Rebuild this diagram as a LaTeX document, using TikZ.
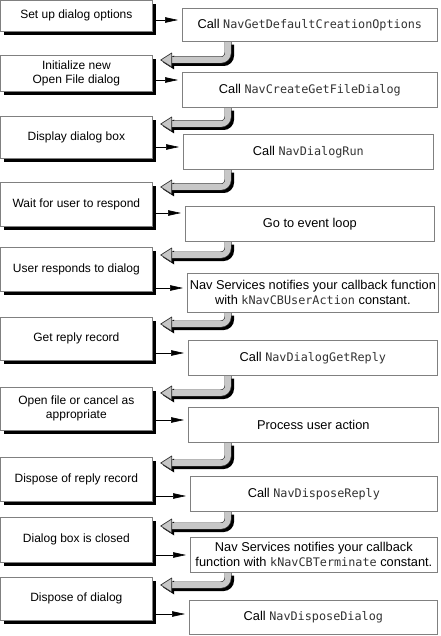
\documentclass[tikz,border=0pt]{standalone}
\usepackage{fontspec}
\setmainfont{Liberation Sans}
\setmonofont{DejaVu Sans Mono}
\usepackage{tikz}
\usetikzlibrary{positioning, calc, arrows.meta, shadows}

\definecolor{bandgray}{gray}{0.78}
\newcommand{\navcode}[1]{{\fontsize{11.8}{15}\selectfont\ttfamily\color{black!80}#1}}

\tikzset{
    stepleft/.style={draw=black!50, line width=0.7pt, fill=white, anchor=north west,
        minimum width=152, inner sep=0, align=center,
        font=\fontsize{12}{14}\selectfont,
        drop shadow={shadow xshift=3.5pt, shadow yshift=-3.5pt, fill=black, opacity=1}},
    callbox/.style={draw=black!50, line width=0.7pt, fill=white, anchor=north west,
        inner sep=0, align=center, font=\fontsize{12.8}{15}\selectfont},
    smallarrow/.style={line width=0.6pt, -{Triangle[length=13pt, width=5.5pt]},
        shorten <=3pt, shorten >=4pt},
}

\begin{document}
\begin{tikzpicture}[x=1pt, y=-1pt]

    \useasboundingbox (0,0) rectangle (440,636);

    % steps on the left
    \node[stepleft, minimum height=31] (L1) at (0,0) {Set up dialog options};
    \node[stepleft, minimum height=36] (L2) at (0,55) {Initialize new\\Open File dialog};
    \node[stepleft, minimum height=42] (L3) at (0,116) {Display dialog box};
    \node[stepleft, minimum height=44] (L4) at (0,182) {Wait for user to respond};
    \node[stepleft, minimum height=44] (L5) at (0,247) {User responds to dialog};
    \node[stepleft, minimum height=43] (L6) at (0,317) {Get reply record};
    \node[stepleft, minimum height=43] (L7) at (0,387) {Open file or cancel as\\appropriate};
    \node[stepleft, minimum height=44] (L8) at (0,457) {Dispose of reply record};
    \node[stepleft, minimum height=45] (L9) at (0,517) {Dialog box is closed};
    \node[stepleft, minimum height=43] (L10) at (0,577) {Dispose of dialog};

    % calls on the right
    \node[callbox, minimum width=255, minimum height=33] (R1) at (182,8) {Call \navcode{NavGetDefaultCreationOptions}};
    \node[callbox, minimum width=255, minimum height=35] (R2) at (182,72) {Call \navcode{NavCreateGetFileDialog}};
    \node[callbox, minimum width=250, minimum height=35] (R3) at (183,134) {Call \navcode{NavDialogRun}};
    \node[callbox, minimum width=249, minimum height=35] (R4) at (185,206) {Go to event loop};
    \node[callbox, minimum width=251, minimum height=39] (R5) at (187,273) {Nav Services notifies your callback function\\with \navcode{kNavCBUserAction} constant.};
    \node[callbox, minimum width=249, minimum height=35] (R6) at (188,340) {Call \navcode{NavDialogGetReply}};
    \node[callbox, minimum width=250, minimum height=35] (R7) at (188,407) {Process user action};
    \node[callbox, minimum width=247, minimum height=35] (R8) at (190,476) {Call \navcode{NavDisposeReply}};
    \node[callbox, minimum width=247, minimum height=35] (R9) at (190,537) {Nav Services notifies your callback\\function with \navcode{kNavCBTerminate} constant.};
    \node[callbox, minimum width=248, minimum height=34] (R10) at (189,600) {Call \navcode{NavDisposeDialog}};

    % small arrows
    \foreach \i/\y in {1/20, 2/80, 3/147, 4/213, 5/288, 6/353, 7/420, 8/496, 9/555, 10/614} {
        \coordinate (a\i) at (0,\y);
        \path[draw, smallarrow] (L\i.east |- a\i) -- (R\i.west |- a\i);
    }

    % gray return arrows
    \foreach \i/\j/\hy in {1/2/60, 2/3/124, 3/4/187, 4/5/255, 5/6/324, 6/7/393, 7/8/463, 8/9/526, 9/10/585} {
        \coordinate (bend\i) at (228,\hy);
        \coordinate (top\i) at ($(R\i.south -| bend\i)+(0,0.4)$);
        \coordinate (tip\i) at ($(L\j.east |- bend\i)+(8,0)$);
        % shadow
        \path[draw=black, line width=7pt, rounded corners=7pt]
            ($(top\i)+(2.5,2.5)$) -- ($(bend\i)+(2.5,2.5)$) -- ($(tip\i)+(13.5,2.5)$);
        \path[fill=black] ($(tip\i)+(2.5,2.5)$) -- ++(11,-7) -- ++(0,14) -- cycle;
        % band
        \path[draw=black!80, line width=7pt, rounded corners=7pt]
            (top\i) -- (bend\i) -- ($(tip\i)+(11,0)$);
        \path[draw=bandgray, line width=5.6pt, rounded corners=7pt]
            (top\i) -- (bend\i) -- ($(tip\i)+(11,0)$);
        \path[draw=black!80, fill=bandgray, line width=0.7pt, line join=round]
            (tip\i) -- ++(11,-7) -- ++(0,14) -- cycle;
    }

\end{tikzpicture}
\end{document}
